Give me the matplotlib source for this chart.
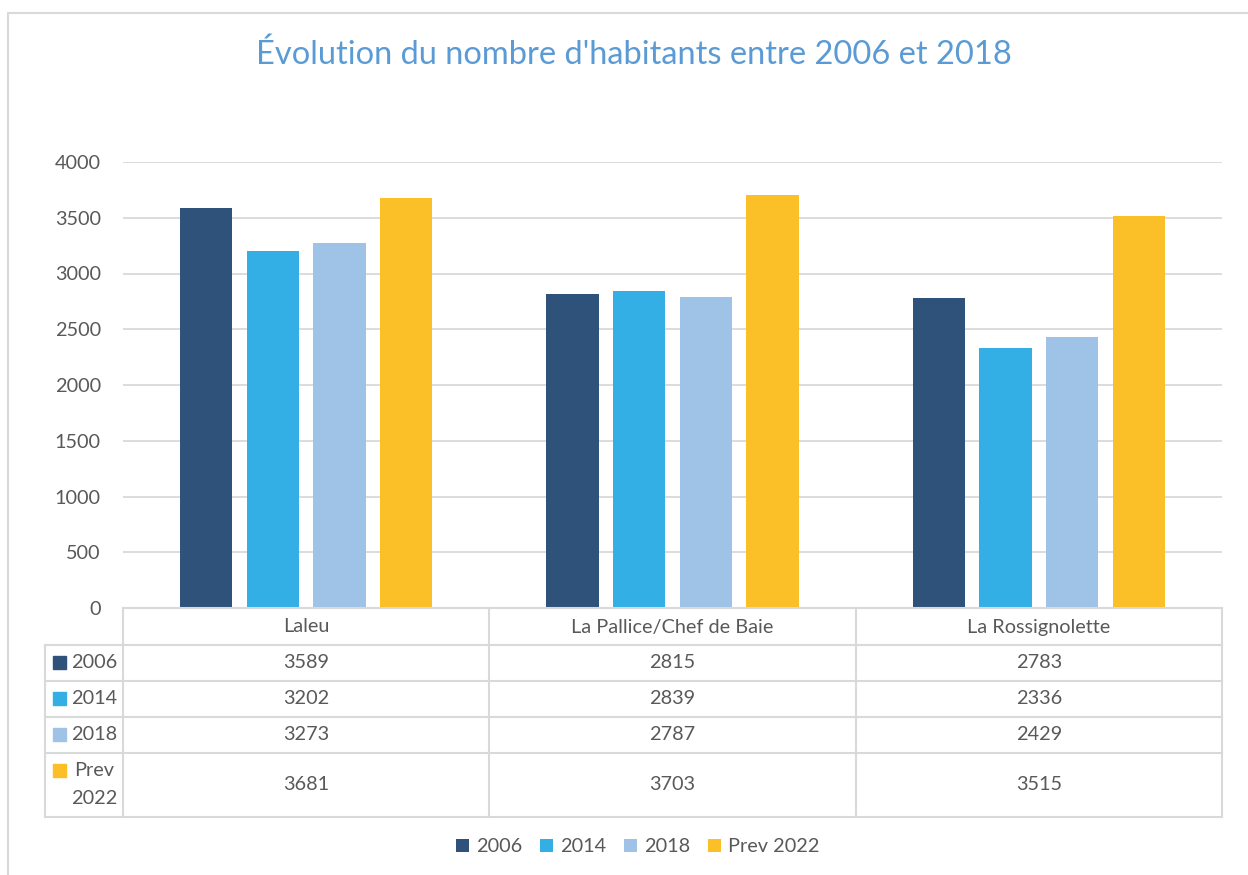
import matplotlib.pyplot as plt
import numpy as np
from matplotlib.patches import Rectangle

plt.rcParams['font.family'] = ['Lato', 'DejaVu Sans']

# data
quartiers = ["Laleu", "La Pallice/Chef de Baie", "La Rossignolette"]
series = ["2006", "2014", "2018", "Prev 2022"]
row_labels = ["2006", "2014", "2018", "Prev\n2022"]
v2006 = [3589, 2815, 2783]
v2014 = [3202, 2839, 2336]
v2018 = [3273, 2787, 2429]
vprev = [3681, 3703, 3515]
values = [v2006, v2014, v2018, vprev]
colors = ["#2e5279", "#33afe5", "#9fc3e7", "#fbbf27"]

W, H = 1248, 875
fig = plt.figure(figsize=(W / 100, H / 100), dpi=100)
txt = "#595959"
grid_c = "#d9d9d9"
fs = 14.3


def fx(px):
    return px / W


def fy(py):
    return 1 - py / H


# outer chart frame
fig.patches.append(Rectangle((fx(8), fy(900)), fx(1300) - fx(8), fy(13) - fy(900),
                             transform=fig.transFigure, fill=False,
                             edgecolor=grid_c, lw=1.5))

ax = fig.add_axes([fx(123), fy(608), fx(1222) - fx(123), fy(162) - fy(608)])
x = np.arange(len(quartiers))
w = 0.142
step = 0.182
for i, (vals, c) in enumerate(zip(values, colors)):
    ax.bar(x + (i - 1.5) * step, vals, w, color=c, zorder=3, label=series[i])
ax.set_xlim(-0.5, 2.5)
ax.set_ylim(0, 4000)
ax.set_yticks(range(0, 4001, 500))
ax.set_xticks([])
ax.grid(axis="y", color=grid_c, lw=1.3)
for s in ax.spines.values():
    s.set_visible(False)
ax.tick_params(axis="y", length=0, pad=16, labelsize=fs, labelcolor=txt)

fig.text(fx(634), fy(55), "Évolution du nombre d'habitants entre 2006 et 2018",
         ha="center", va="center", fontsize=23.5, color="#5b9bd5")

# data table below the plot
col_x = [123, 489, 856, 1222]
row_y = [608, 645, 681, 717, 753, 817]
lk = dict(color=grid_c, lw=1.5, transform=fig.transFigure)
fig.add_artist(plt.Line2D([fx(123), fx(1222)], [fy(608), fy(608)], **lk))
for yy in row_y[1:]:
    fig.add_artist(plt.Line2D([fx(45), fx(1222)], [fy(yy), fy(yy)], **lk))
for xx in col_x:
    fig.add_artist(plt.Line2D([fx(xx), fx(xx)], [fy(608), fy(817)], **lk))
fig.add_artist(plt.Line2D([fx(45), fx(45)], [fy(645), fy(817)], **lk))

for j, q in enumerate(quartiers):
    cx = (col_x[j] + col_x[j + 1]) / 2
    fig.text(fx(cx), fy(627), q, ha="center", va="center", fontsize=fs, color=txt)
    for i, vals in enumerate(values):
        cy = (row_y[i + 1] + row_y[i + 2]) / 2
        fig.text(fx(cx), fy(cy), str(vals[j]), ha="center", va="center",
                 fontsize=fs, color=txt)

for i, lab in enumerate(row_labels):
    cy = (row_y[i + 1] + row_y[i + 2]) / 2
    if i < 3:
        fig.patches.append(Rectangle((fx(53), fy(cy + 6)), fx(13), fy(0) - fy(13),
                                     transform=fig.transFigure, color=colors[i]))
        fig.text(fx(117), fy(cy), lab, ha="right", va="center", fontsize=fs, color=txt)
    else:
        fig.patches.append(Rectangle((fx(53), fy(777)), fx(13), fy(0) - fy(13),
                                     transform=fig.transFigure, color=colors[i]))
        fig.text(fx(94), fy(771), "Prev", ha="center", va="center", fontsize=fs, color=txt)
        fig.text(fx(117), fy(799), "2022", ha="right", va="center", fontsize=fs, color=txt)

fig.legend(loc="center", bbox_to_anchor=(fx(638), fy(847)), ncol=4, frameon=False,
           fontsize=fs, labelcolor=txt, handlelength=0.65, handleheight=0.65,
           handletextpad=0.35, columnspacing=0.9)

fig.savefig("out.png", dpi=100)
